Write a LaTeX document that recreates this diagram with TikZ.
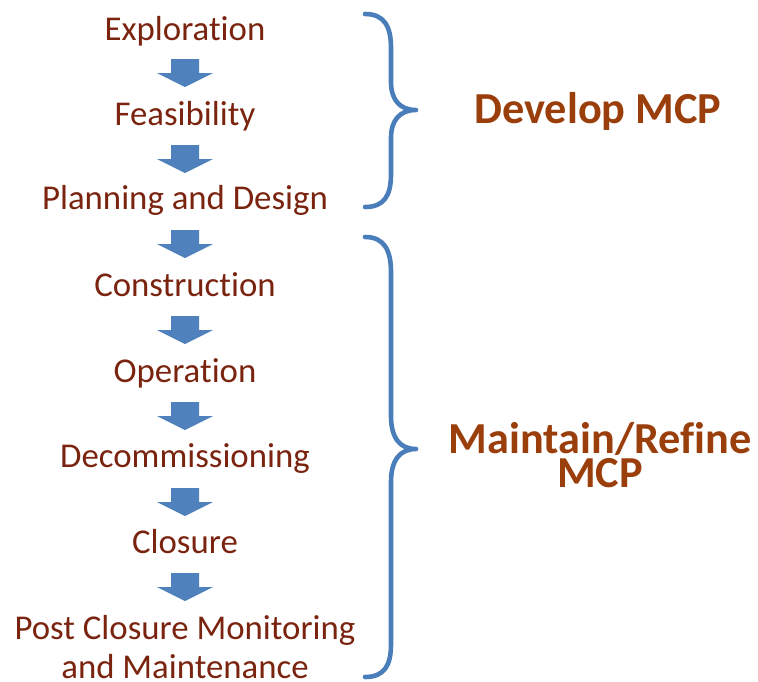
\documentclass[tikz,border=0pt]{standalone}
\usepackage{fontspec}
\setmainfont{Carlito}[Ligatures=NoCommon]
\usetikzlibrary{calc}
\definecolor{stagered}{HTML}{7A2410}
\definecolor{phasebrown}{HTML}{9A3F0C}
\definecolor{flowblue}{HTML}{4F81BD}
\definecolor{braceblue}{HTML}{4A7EBB}
\tikzset{
  stage/.style={text=stagered, font=\fontsize{34.8}{39}\selectfont, anchor=base, inner sep=0pt, align=center},
  phase/.style={text=phasebrown, font=\bfseries\fontsize{44.3}{34}\selectfont, anchor=base, inner sep=0pt, align=center},
  bracestroke/.style={draw=braceblue, line width=4.6pt, line cap=round, line join=round},
  downarrow/.pic={
    \fill[flowblue] (-14,0) -- (14,0) -- (14,14) -- (28,14) -- (0,28) -- (-28,14) -- (-14,14) -- cycle;
  }
}
\begin{document}
\begin{tikzpicture}[x=1pt, y=-1pt]
\useasboundingbox (0,0) rectangle (758,681);

% stage labels (a two-line node sits on the baseline of its last line)
\node[stage] (s1) at (185,40) {Exploration};
\node[stage] (s2) at (185,125) {Feasibility};
\node[stage] (s3) at (185,209) {Planning and Design};
\node[stage] (s4) at (185,296) {Construction};
\node[stage] (s5) at (185,382) {Operation};
\node[stage] (s6) at (185,467) {Decommissioning};
\node[stage] (s7) at (185,553) {Closure};
\node[stage] (s8) at (185,678) {Post Closure Monitoring\\and Maintenance};

% block arrows between consecutive stages
\pic at ($(s1.base)+(0,19)$) {downarrow};
\pic at ($(s2.base)+(0,20)$) {downarrow};
\pic at ($(s3.base)+(0,21)$) {downarrow};
\pic at ($(s4.base)+(0,20)$) {downarrow};
\pic at ($(s5.base)+(0,20)$) {downarrow};
\pic at ($(s6.base)+(0,21)$) {downarrow};
\pic at ($(s7.base)+(0,20)$) {downarrow};

% braces grouping the stages
\draw[bracestroke] (365,14) .. controls (384,14) and (391,26) .. (391,48)
  -- (391,82) .. controls (391,100) and (400,110) .. (416,110)
  .. controls (400,110) and (391,120) .. (391,138)
  -- (391,174) .. controls (391,196) and (384,207) .. (365,207);
\draw[bracestroke] (365,237) .. controls (384,237) and (391,250) .. (391,272)
  -- (391,416) .. controls (391,438) and (400,449) .. (416,449)
  .. controls (400,449) and (391,460) .. (391,482)
  -- (391,644) .. controls (391,666) and (384,677) .. (365,677);

% phase labels
\node[phase] (p1) at (598,123) {Develop MCP};
\node[phase] (p2) at (600,487) {Maintain/Refine\\MCP};
\end{tikzpicture}
\end{document}
